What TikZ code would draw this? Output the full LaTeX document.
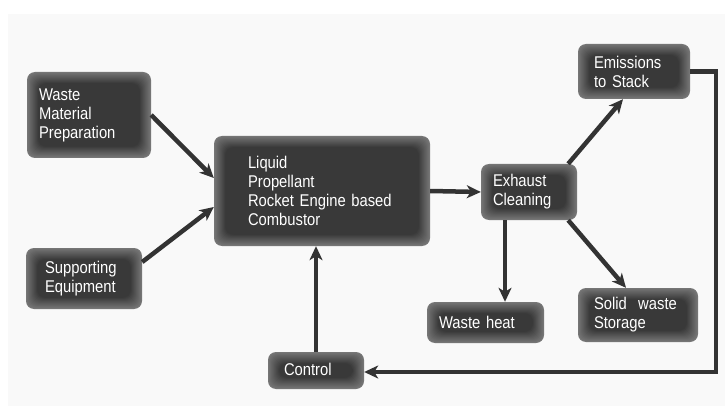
\documentclass[tikz,border=0pt]{standalone}
\usepackage{fontspec}
\usepackage{tikz}
\usetikzlibrary{arrows.meta}
\newfontfamily\boxfont{Liberation Sans}[FakeStretch=0.87]
\definecolor{boxedge}{HTML}{767676}
\definecolor{boxcore}{HTML}{393939}
\definecolor{linegray}{HTML}{333333}
\definecolor{panel}{HTML}{F9F9F9}

\begin{document}
\begin{tikzpicture}[x=1pt,y=-1pt,
    blk/.style={rounded corners=8pt, fill=boxedge, text=white, align=left,
        inner ysep=0pt, font=\boxfont\fontsize{17}{19}\selectfont,
        path picture={
            \foreach \k in {1,...,12}{
                \pgfmathsetmacro\mix{min(100,\k*9)}
                \fill[boxcore!\mix!boxedge, rounded corners=8pt]
                    ([shift={(\k*1pt,\k*1pt)}]path picture bounding box.south west) rectangle
                    ([shift={(-\k*1pt,-\k*1pt)}]path picture bounding box.north east);
            }}},
    arr/.style={draw=linegray, line width=4.5pt,
        -{Stealth[length=14pt,width=13pt,inset=4pt]}}]
    \useasboundingbox (0,0) rectangle (725,406);
    \fill[white] (0,0) rectangle (725,406);
    \fill[panel] (8,14) rectangle (725,406);

    \node[blk, minimum width=124pt, minimum height=86pt, text width=100pt, inner xsep=12pt] (prep) at (89,115) {Waste\\Material\\Preparation};
    \node[blk, minimum width=116pt, minimum height=61pt, text width=78pt, inner xsep=19pt] (supp) at (84,278.5) {Supporting\\Equipment};
    \node[blk, minimum width=216pt, minimum height=110pt, text width=148pt, inner xsep=34pt] (comb) at (322,191) {Liquid\\Propellant\\Rocket Engine based\\Combustor};
    \node[blk, minimum width=96pt, minimum height=56pt, text width=72pt, inner xsep=12pt] (exh) at (529,192) {Exhaust\\Cleaning};
    \node[blk, minimum width=112pt, minimum height=55pt, text width=80pt, inner xsep=16pt] (emis) at (634,71.5) {Emissions\\to Stack};
    \node[blk, minimum width=117pt, minimum height=41pt, text width=93pt, inner xsep=12pt] (heat) at (485.5,322.5) {Waste heat};
    \node[blk, minimum width=120pt, minimum height=54pt, text width=88pt, inner xsep=16pt] (solid) at (638,315) {Solid~ waste\\Storage};
    \node[blk, minimum width=96pt, minimum height=37pt, text width=64pt, inner xsep=16pt] (ctrl) at (316,370.5) {\raisebox{3pt}{Control}};

    \draw[arr] (prep.east) -- ([yshift=13pt]comb.west);
    \draw[arr] ([yshift=16.5pt]supp.east) -- ([yshift=-16pt]comb.west);
    \draw[arr] (comb.east) -- (exh.west);
    \draw[arr] ([xshift=-9pt]exh.north east) -- ([xshift=-11pt]emis.south);
    \draw[arr] ([xshift=-24pt]exh.south) -- ([xshift=-24pt]exh.south |- heat.north);
    \draw[arr] ([xshift=-9pt]exh.south east) -- ([xshift=-12pt]solid.north);
    \draw[arr] (ctrl.north) -- (ctrl.north |- comb.south);
    \coordinate (bend) at (716,372);
    \draw[arr] (emis.east) -| (bend) -- (ctrl.east |- bend);
\end{tikzpicture}
\end{document}
